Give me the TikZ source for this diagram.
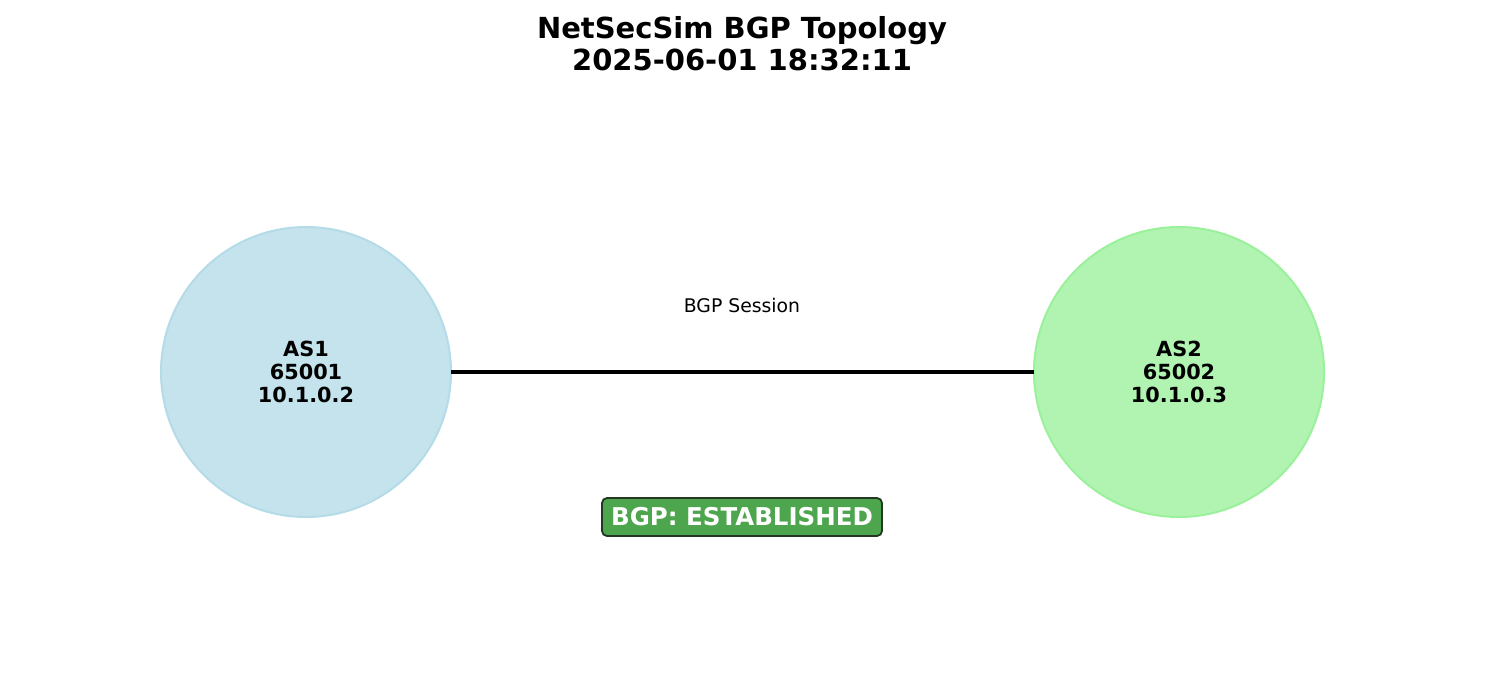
\documentclass[tikz,border=0pt]{standalone}
\usepackage{fontspec}
\setmainfont{DejaVu Sans}
\definecolor{asonefill}{RGB}{197,227,236}
\definecolor{asoneedge}{RGB}{180,219,232}
\definecolor{astwofill}{RGB}{177,244,177}
\definecolor{astwoedge}{RGB}{155,240,155}
\definecolor{badgefill}{RGB}{77,166,77}
\definecolor{badgeedge}{RGB}{35,55,35}
\tikzset{
  asnode/.style={circle, minimum size=290pt, inner sep=0pt, outer sep=0pt, line width=2pt, align=center,
    font=\fontsize{20.8pt}{23pt}\selectfont\bfseries},
  link/.style={line width=3.5pt, black},
}
\begin{document}
\begin{tikzpicture}[x=1pt,y=-1pt]
\useasboundingbox (0,0) rectangle (1485,678);
\node[align=center, font=\fontsize{29pt}{32pt}\selectfont\bfseries] (title) at (742,44) {NetSecSim BGP Topology\\2025-06-01 18:32:11};
\node[asnode, fill=asonefill, draw=asoneedge] (as1) at (306,372) {AS1\\65001\\10.1.0.2};
\node[asnode, fill=astwofill, draw=astwoedge] (as2) at (1179,372) {AS2\\65002\\10.1.0.3};
\draw[link] (as1.east) -- (as2.west);
\node[font=\fontsize{18.8pt}{21pt}\selectfont] (lbl) at (742,305) {BGP Session};
\node[fill=badgefill, draw=badgeedge, line width=1.8pt, rounded corners=5pt, text=white,
  minimum width=280pt, minimum height=38pt, inner sep=0pt, font=\fontsize{24.5pt}{26pt}\selectfont\bfseries] (badge) at (742,517) {BGP: ESTABLISHED};
\end{tikzpicture}
\end{document}
